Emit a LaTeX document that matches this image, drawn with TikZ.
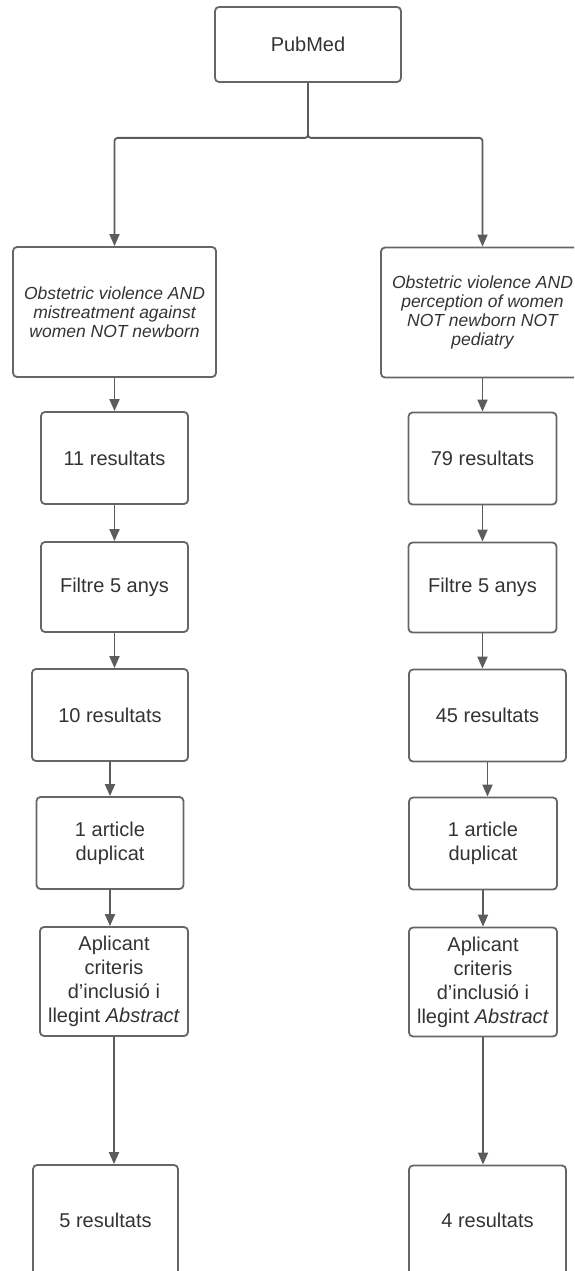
\documentclass[tikz,border=0pt]{standalone}
\usepackage{fontspec}
\setmainfont{Liberation Sans}
\usepackage{tikz}
\usetikzlibrary{positioning}
\usetikzlibrary{arrows.meta}
\definecolor{boxline}{HTML}{666666}
\definecolor{edgeline}{HTML}{5C5C5C}
\definecolor{txt}{HTML}{333333}
\tikzstyle{topbox} = [rectangle, draw=boxline, line width=1.8pt, rounded corners=4pt, text=txt, align=center, inner sep=0pt, minimum width=186pt, minimum height=75pt, font=\fontsize{20}{24}\selectfont]
\tikzstyle{query}  = [topbox, minimum width=203pt, minimum height=130pt, font=\fontsize{17.5}{19}\selectfont\itshape]
\tikzstyle{result} = [topbox, minimum width=147pt, minimum height=92pt]
\tikzstyle{flow}   = [draw=edgeline, line width=1.8pt, -{Triangle[length=12pt, width=10pt]}]

\begin{document}
\begin{tikzpicture}[auto]
	\useasboundingbox (0pt,0pt) rectangle (574pt,-1271pt);
	\clip (0pt,0pt) rectangle (574pt,-1271pt);
	% title node
	\node [topbox] (N0) at (308pt,-44.5pt) {PubMed};
	% left column
	\node [query] (L0) at (114.5pt,-312pt) {Obstetric violence AND\\mistreatment against\\women NOT newborn};
	\node [result, below of=L0, node distance=146pt]                      (L1) {11 resultats};
	\node [result, below of=L1, node distance=129pt, minimum height=90pt] (L2) {Filtre 5 anys};
	\node [result, below of=L2, node distance=128pt, xshift=-4.5pt, minimum width=156pt] (L3) {10 resultats};
	\node [result, below of=L3, node distance=128pt]                      (L4) {1 article\\duplicat};
	\node [result, below of=L4, node distance=138.5pt, xshift=4pt, minimum width=148pt, minimum height=109pt] (L5) {Aplicant\\criteris\\d'inclusió i\\llegint \textit{Abstract}};
	\node [result, below of=L5, node distance=238.5pt, xshift=-8.5pt, minimum width=145pt, minimum height=110pt] (L6) {5 resultats};
	% right column
	\node [query] (R0) at (482.5pt,-312.5pt) {Obstetric violence AND\\perception of women\\NOT newborn NOT\\pediatry};
	\node [result, below of=R0, node distance=146pt, minimum width=148pt] (R1) {79 resultats};
	\node [result, below of=R1, node distance=129pt, minimum width=148pt, minimum height=90pt] (R2) {Filtre 5 anys};
	\node [result, below of=R2, node distance=128pt, xshift=5pt, minimum width=157pt] (R3) {45 resultats};
	\node [result, below of=R3, node distance=128pt, xshift=-4.5pt, minimum width=148pt] (R4) {1 article\\duplicat};
	\node [result, below of=R4, node distance=138.5pt, minimum width=148pt, minimum height=109pt] (R5) {Aplicant\\criteris\\d'inclusió i\\llegint \textit{Abstract}};
	\node [result, below of=R5, node distance=238.5pt, xshift=4.5pt, minimum width=157pt, minimum height=110pt] (R6) {4 resultats};

	% draw edges
	\path [flow, rounded corners=3pt] (N0.south) -- ++(0,-55pt) -| (L0.north);
	\path [flow, rounded corners=3pt] (N0.south) -- ++(0,-55pt) -| (R0.north);
	\path [flow] (L0.south) -- (L0.south |- L1.north);
	\path [flow] (L1.south) -- (L1.south |- L2.north);
	\path [flow] (L2.south) -- (L2.south |- L3.north);
	\path [flow] (L3.south) -- (L3.south |- L4.north);
	\path [flow] (L4.south) -- (L4.south |- L5.north);
	\path [flow] (L5.south) -- (L5.south |- L6.north);
	\path [flow] (R0.south) -- (R0.south |- R1.north);
	\path [flow] (R1.south) -- (R1.south |- R2.north);
	\path [flow] (R2.south) -- (R2.south |- R3.north);
	\path [flow] (R3.south) -- (R3.south |- R4.north);
	\path [flow] (R4.south) -- (R4.south |- R5.north);
	\path [flow] (R5.south) -- (R5.south |- R6.north);
\end{tikzpicture}
\end{document}
